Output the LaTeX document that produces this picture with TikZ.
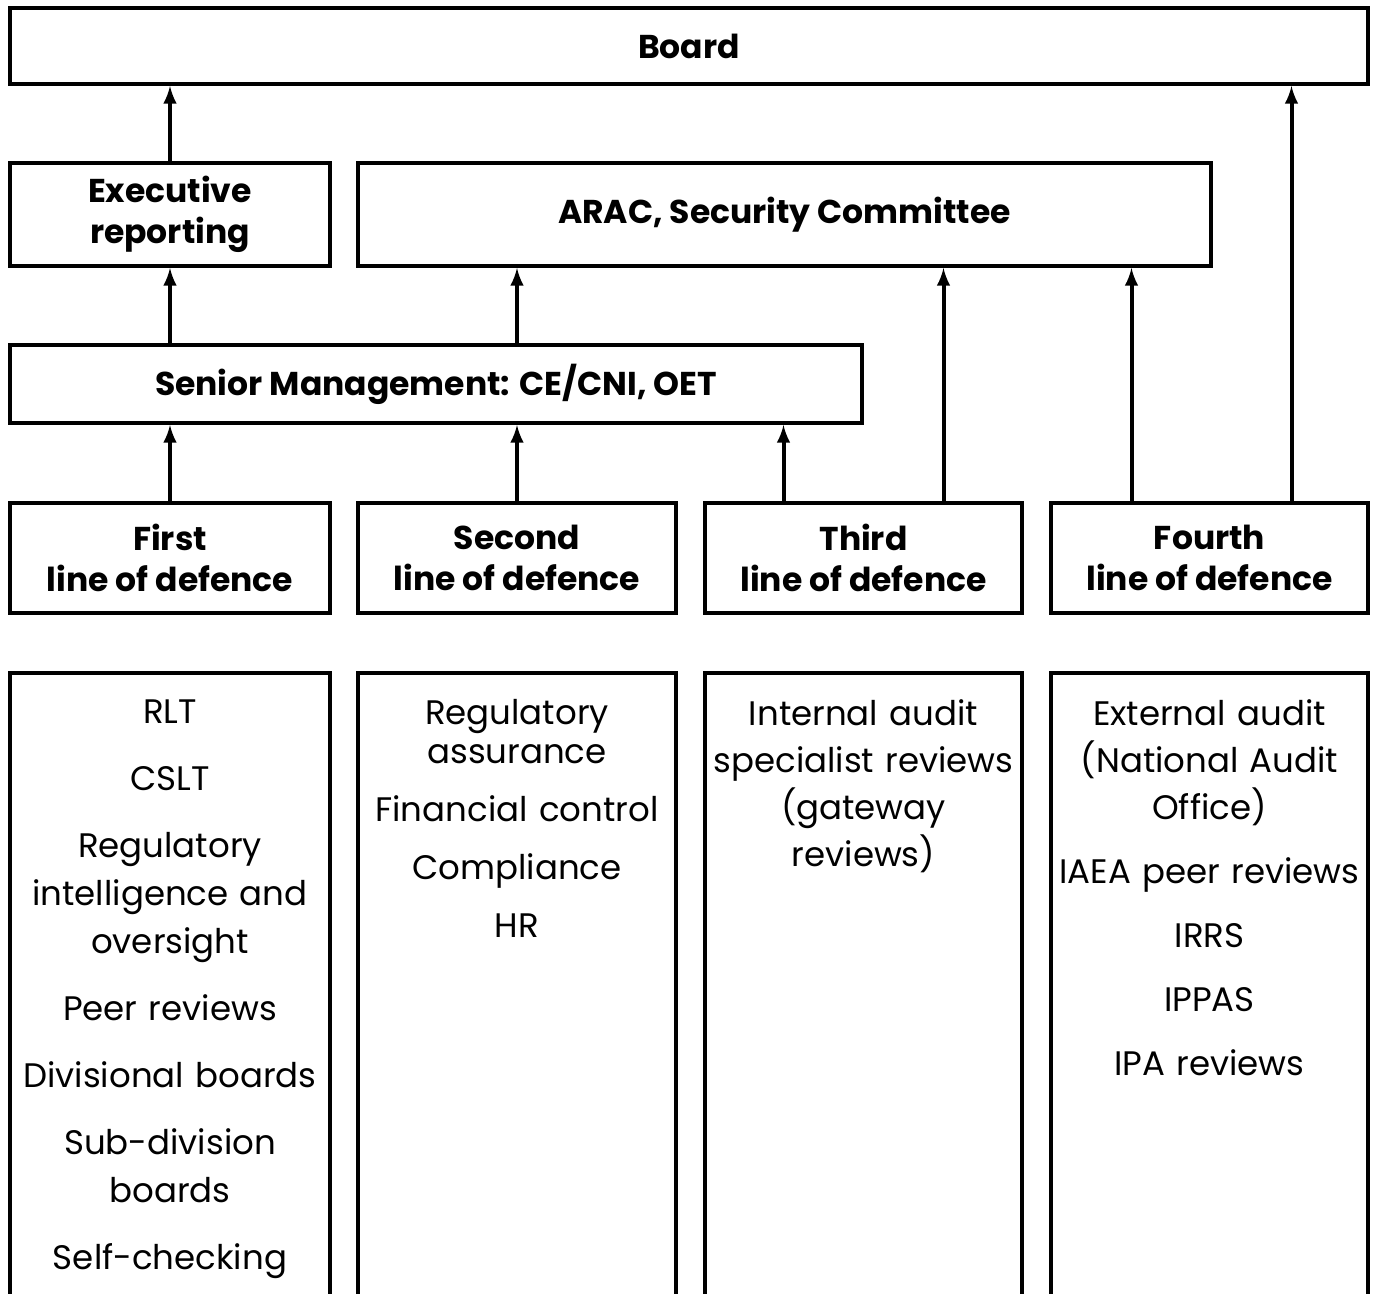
\documentclass[tikz,border=0pt]{standalone}
\usepackage{fontspec}
\setmainfont{Poppins}
\usetikzlibrary{positioning}

\begin{document}
\begin{tikzpicture}[x=0.5pt,y=-0.5pt]
	\tikzstyle{box}=[rectangle, draw=black, line width=2pt, inner sep=0pt, font=\fontsize{16.5}{20.5}\selectfont\bfseries, align=center]
	\tikzstyle{connect}=[-latex, line width=2pt]
	\tikzstyle{items}=[inner sep=0pt, anchor=north, text width=158pt, align=center, font=\fontsize{17}{24}\selectfont]
	\useasboundingbox (0,0) rectangle (1376,1294);
	\clip (0,0) rectangle (1376,1294);
	  \node[box, minimum width=679pt, minimum height=38pt] (board) at (689,46) {Board};
	  \node[box, minimum width=160pt, minimum height=51.5pt] (exe) at (170,214.5) {Executive\\reporting};
	  \node[box, minimum width=426.5pt, minimum height=51.5pt] (arac) at (784.5,214.5) {ARAC, Security Committee};
	  \node[box, minimum width=426pt, minimum height=39pt] (sm) at (436,384) {Senior Management: CE/CNI, OET};
	  \node[box, minimum width=160pt, minimum height=55pt] (fir) at (170,558) {First\\line of defence};
	  \node[box, minimum width=159pt, minimum height=55pt] (sec) at (517,558) {Second\\line of defence};
	  \node[box, minimum width=158.5pt, minimum height=55pt] (thi) at (863.5,558) {Third\\line of defence};
	  \node[box, minimum width=158.5pt, minimum height=55pt] (fou) at (1209.5,558) {Fourth\\line of defence};

	  % open boxes at the bottom
	  \draw[line width=2pt] (10,1320) -- (10,673) -- (330,673) -- (330,1320);
	  \draw[line width=2pt] (358,1320) -- (358,673) -- (676,673) -- (676,1320);
	  \draw[line width=2pt] (705,1320) -- (705,673) -- (1022,673) -- (1022,1320);
	  \draw[line width=2pt] (1051,1320) -- (1051,673) -- (1368,673) -- (1368,1320);

	  \node[items] (firlist) at (170,699) {RLT\\[9.5pt]CSLT\\[9.5pt]Regulatory\\intelligence and\\oversight\\[9.5pt]Peer reviews\\[9.5pt]Divisional boards\\[9.5pt]Sub-division\\boards\\[9.5pt]Self-checking};
	  \node[items, font=\fontsize{17}{19.5}\selectfont] (seclist) at (517,699) {Regulatory\\assurance\\[9.5pt]Financial control\\[9.5pt]Compliance\\[9.5pt]HR};
	  \node[items, font=\fontsize{17}{23.5}\selectfont] (thilist) at (863.5,699) {Internal audit\\specialist reviews\\(gateway\\reviews)};
	  \node[items, font=\fontsize{17}{23.5}\selectfont] (foulist) at (1209.5,699) {External audit\\(National Audit\\Office)\\[8.5pt]IAEA peer reviews\\[8.5pt]IRRS\\[8.5pt]IPPAS\\[8.5pt]IPA reviews};

	  \path (exe) edge [connect] (board.south -| exe)
			(sm.north -| exe) edge [connect] (exe)
			([xshift=40.5pt]sm.north) edge [connect] ([xshift=40.5pt]sm.north |- arac.south)
			(fir) edge [connect] (sm.south -| fir)
			(sec) edge [connect] (sm.south -| sec)
			([xshift=-40pt]thi.north) edge [connect] ([xshift=-40pt]thi.north |- sm.south)
			([xshift=40pt]thi.north) edge [connect] ([xshift=40pt]thi.north |- arac.south)
			([xshift=-39pt]fou.north) edge [connect] ([xshift=-39pt]fou.north |- arac.south)
			([xshift=41pt]fou.north) edge [connect] ([xshift=41pt]fou.north |- board.south);
	\end{tikzpicture}
\end{document}
